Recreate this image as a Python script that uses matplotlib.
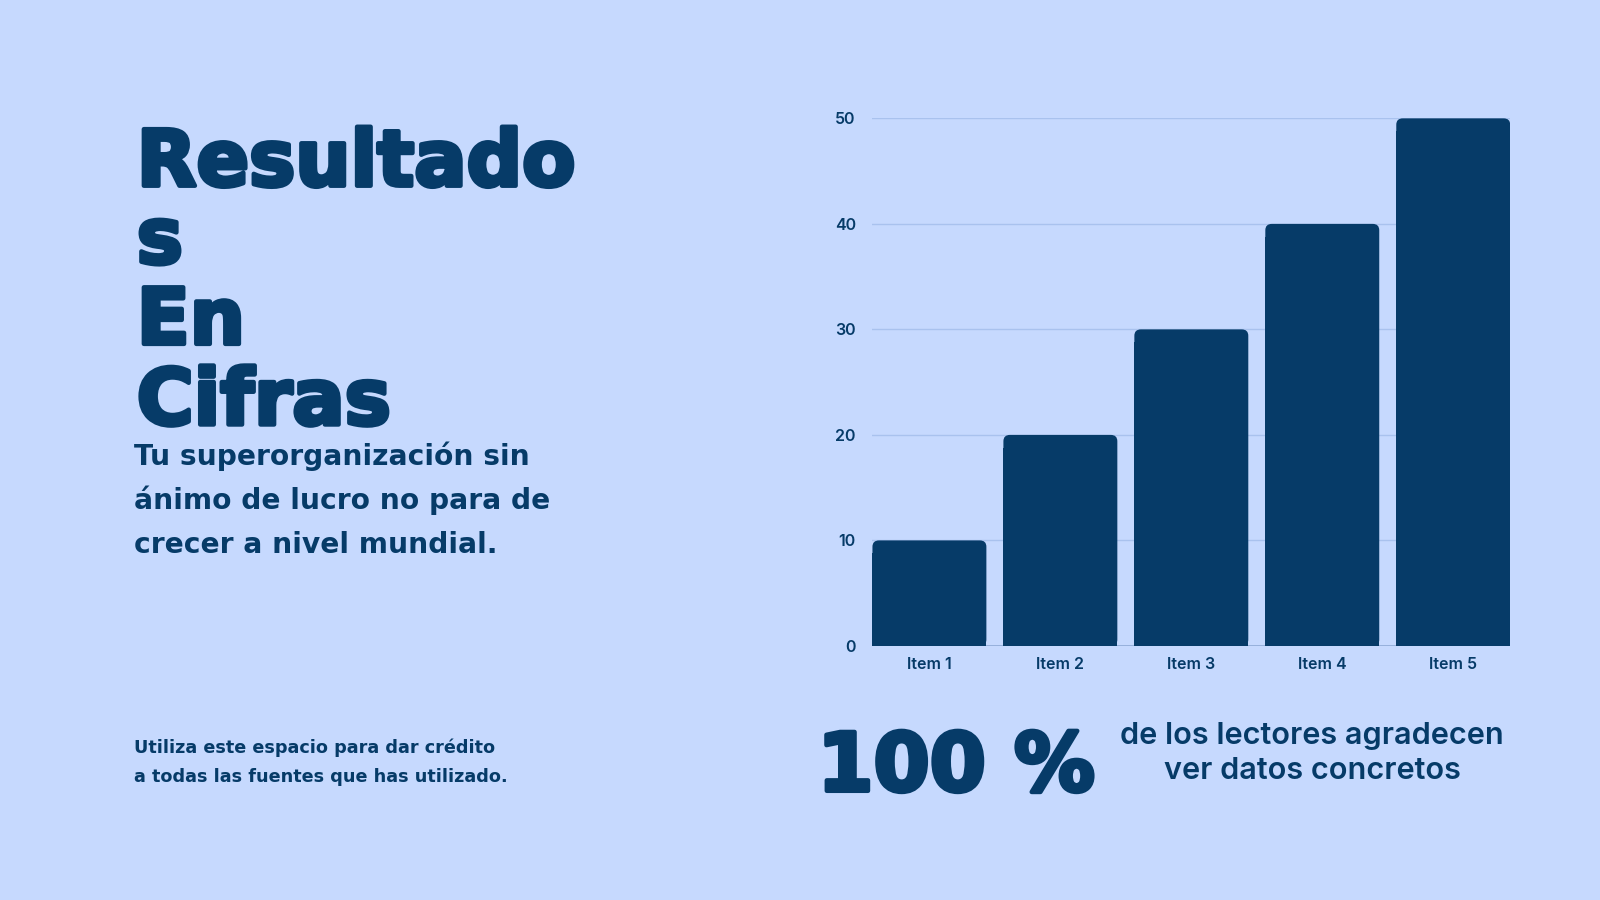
import matplotlib
matplotlib.use("Agg")
import matplotlib.pyplot as plt
from matplotlib.patches import FancyBboxPatch
import matplotlib.patheffects as pe

categories = ["Item 1", "Item 2", "Item 3", "Item 4", "Item 5"]
values = [10, 20, 30, 40, 50]
yticks = [0, 10, 20, 30, 40, 50]

BG = "#C6D9FE"
NAVY = "#063B68"
GRID = "#A9C2EE"
FONT = "Inter"

fig = plt.figure(figsize=(16, 9), dpi=100, facecolor=BG)
renderer = fig.canvas.get_renderer()

W, H = 1568.0, 882.0
SC = 1600.0 / W
def fx(x): return x / W
def fy(y): return 1 - y / H


def fit_text(x, y, s, target_w, fontsize, ha="left", **kw):
    t = fig.text(fx(x), fy(y), s, fontsize=fontsize, ha=ha, va="baseline", color=NAVY, **kw)
    for _ in range(3):
        w = t.get_window_extent(renderer).width
        t.set_fontsize(t.get_fontsize() * target_w * SC / w)
    return t


# Chart
ax = fig.add_axes([fx(855), fy(633), fx(1480) - fx(855), fy(116) - fy(633)])
ax.set_facecolor(BG)
width = 0.87
ax.set_xlim(-width / 2, len(categories) - 1 + width / 2)
ax.set_ylim(0, 50)
ax.set_yticks(yticks)
ax.yaxis.grid(True, color=GRID, linewidth=1.0)
ax.set_axisbelow(True)
for s in ax.spines.values():
    s.set_visible(False)
ax.axhline(0, color="#8FAAD6", linewidth=1.2, zorder=1)

bars = ax.bar(range(len(categories)), values, width=width, color=NAVY, zorder=2)
# rounded top corners
rx = 0.05
ry = 0.6
for b in bars:
    x0, y0 = b.get_x(), b.get_y()
    w, h = b.get_width(), b.get_height()
    b.set_height(h - ry * 2)
    p = FancyBboxPatch((x0 + rx, y0 + ry), w - 2 * rx, h - 2 * ry,
                       boxstyle="round,pad=0,rounding_size=%f" % rx,
                       mutation_aspect=ry / rx, facecolor=NAVY, edgecolor="none", zorder=2)
    p.set_boxstyle("round", pad=rx, rounding_size=rx)
    ax.add_patch(p)

ax.set_xticks(range(len(categories)))
ax.set_xticklabels(categories)
ax.tick_params(axis="both", length=0, colors=NAVY)
for lab in ax.get_xticklabels() + ax.get_yticklabels():
    lab.set_fontfamily(FONT)
    lab.set_fontweight("semibold")
    lab.set_fontsize(11.5)
    lab.set_color(NAVY)
ax.tick_params(axis="x", pad=8)
ax.tick_params(axis="y", pad=12)

heavy = [pe.withStroke(linewidth=3.2, foreground=NAVY)]

# Title
title_lines = ["Resultado", "s", "En", "Cifras"]
title_baselines = [182, 258, 337, 416]
t0 = fit_text(134, title_baselines[0], title_lines[0], 430, 55, fontweight="bold",
              family="DejaVu Sans", path_effects=heavy)
tsize = t0.get_fontsize()
for t, b in zip(title_lines[1:], title_baselines[1:]):
    fig.text(fx(134), fy(b), t, fontsize=tsize, fontweight="bold", family="DejaVu Sans",
             color=NAVY, va="baseline", ha="left", path_effects=heavy)

sub_lines = ["Tu superorganización sin", "ánimo de lucro no para de", "crecer a nivel mundial."]
sub_baselines = [456, 499, 542]
s0 = fit_text(131, sub_baselines[0], sub_lines[0], 389, 20, fontweight="bold", family="DejaVu Sans")
for t, b in zip(sub_lines[1:], sub_baselines[1:]):
    fig.text(fx(131), fy(b), t, fontsize=s0.get_fontsize(), fontweight="bold", family="DejaVu Sans",
             color=NAVY, va="baseline", ha="left")

foot_lines = ["Utiliza este espacio para dar crédito", "a todas las fuentes que has utilizado."]
foot_baselines = [738, 766]
f0 = fit_text(131, foot_baselines[0], foot_lines[0], 354, 13, fontweight="bold", family="DejaVu Sans")
fig.text(fx(131), fy(foot_baselines[1]), foot_lines[1], fontsize=f0.get_fontsize(), fontweight="bold",
         family="DejaVu Sans", color=NAVY, va="baseline", ha="left")

fit_text(801, 775, "100 %", 272, 58, fontweight="bold", family="DejaVu Sans", path_effects=heavy)

stat_lines = ["de los lectores agradecen", "ver datos concretos"]
stat_baselines = [729, 763]
st0 = fit_text(1286, stat_baselines[0], stat_lines[0], 376, 21, ha="center",
               fontweight="semibold", family=FONT)
fig.text(fx(1286), fy(stat_baselines[1]), stat_lines[1], fontsize=st0.get_fontsize(),
         fontweight="semibold", family=FONT, color=NAVY, va="baseline", ha="center")

fig.savefig("out.png", dpi=100, facecolor=BG)
